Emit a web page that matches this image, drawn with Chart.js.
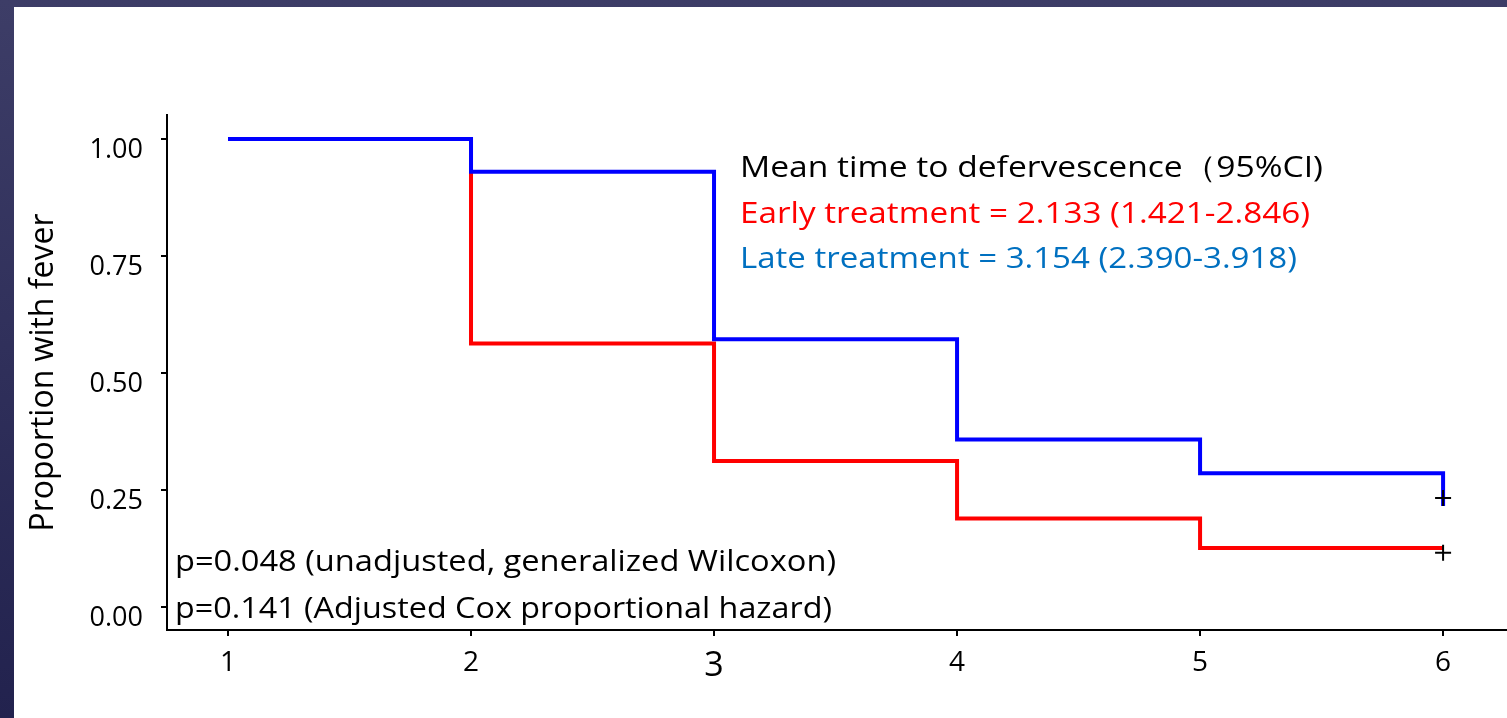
<!DOCTYPE html>
<html>
<head>
<meta charset="utf-8">
<script src="https://cdn.jsdelivr.net/npm/chart.js@4.4.1/dist/chart.umd.min.js"></script>
<style>
  html, body { margin: 0; padding: 0; }
  body {
    width: 1507px; height: 718px; overflow: hidden; position: relative;
    background: linear-gradient(#3d3d67, #22224e);
  }
  #wrap { position: absolute; left: 14px; top: 7px; width: 1493px; height: 711px; background: #fff; }
</style>
</head>
<body>
<div id="wrap"><canvas id="km"></canvas></div>
<script>
// Kaplan-Meier style curves
const days = [1, 2, 3, 4, 5, 6];
const lateTreatment = [1, 0.930, 0.572, 0.358, 0.286, 0.216];
const earlyTreatment = [1, 0.563, 0.312, 0.189, 0.126, 0.126];
const censorDays = [6, 6];
const censorValues = [0.233, 0.116];
const yTicks = [0, 0.25, 0.5, 0.75, 1];

const meanLines = [
    'Mean time to defervescence（95%CI)',
    'Early treatment = 2.133 (1.421-2.846)',
    'Late treatment = 3.154 (2.390-3.918)'
];
const pValueLines = [
    'p=0.048 (unadjusted, generalized Wilcoxon)',
    'p=0.141 (Adjusted Cox proportional hazard)'
];

const FONT = '"Open Sans", Lato, sans-serif';
const toPoints = (xs, ys) => xs.map((x, i) => ({ x: x, y: ys[i] }));

// draws text squeezed/stretched to a given width
function fillFit(ctx, text, x, y, width) {
    const w = ctx.measureText(text).width;
    ctx.save();
    ctx.translate(x, y);
    ctx.scale(width / w, 1);
    ctx.fillText(text, 0, 0);
    ctx.restore();
}

// text blocks drawn over the plot
const statsText = {
    id: 'statsText',
    afterDatasetsDraw(chart) {
        const ctx = chart.ctx;
        ctx.save();
        ctx.textAlign = 'left';
        ctx.textBaseline = 'alphabetic';

        const meanColors = ['#000000', '#ff0000', '#0070c0'];
        const meanWidths = [583, 570, 557];
        ctx.font = '30px ' + FONT;
        meanLines.forEach((line, i) => {
            ctx.fillStyle = meanColors[i];
            fillFit(ctx, line, 726, 170 + i * 45.5, meanWidths[i]);
        });

        const pWidths = [661, 657];
        ctx.font = '29px ' + FONT;
        ctx.fillStyle = '#000';
        pValueLines.forEach((line, i) => {
            fillFit(ctx, line, 161, 564 + i * 47, pWidths[i]);
        });
        ctx.restore();
    }
};

new Chart(document.getElementById('km'), {
    type: 'scatter',
    data: {
        datasets: [
            {
                label: 'Late treatment',
                data: toPoints(days, lateTreatment),
                showLine: true,
                stepped: 'before',
                borderColor: '#0000ff',
                borderWidth: 4,
                borderJoinStyle: 'miter',
                pointRadius: 0,
                order: 1
            },
            {
                label: 'Early treatment',
                data: toPoints(days, earlyTreatment),
                showLine: true,
                stepped: 'before',
                borderColor: '#ff0000',
                borderWidth: 4,
                borderJoinStyle: 'miter',
                pointRadius: 0,
                order: 2
            },
            {
                label: 'Censored',
                data: toPoints(censorDays, censorValues),
                showLine: false,
                pointStyle: 'cross',
                pointRadius: 8,
                pointBorderWidth: 2,
                pointBorderColor: '#000',
                borderColor: '#000',
                order: 0
            }
        ]
    },
    options: {
        responsive: true,
        maintainAspectRatio: false,
        animation: false,
        layout: { autoPadding: false, padding: { top: 108, right: 0, left: 0, bottom: 0 } },
        plugins: {
            legend: { display: false },
            tooltip: { enabled: false }
        },
        scales: {
            x: {
                type: 'linear',
                min: 0.749,
                max: 6.263,
                afterBuildTicks: (scale) => { scale.ticks = days.map(v => ({ value: v })); },
                afterFit: (scale) => {
                    scale.height = 88;
                    scale.paddingLeft = 0;
                    scale.paddingRight = 0;
                },
                grid: { drawOnChartArea: false, tickLength: 6, color: '#000', lineWidth: 2 },
                border: { color: '#000', width: 2 },
                ticks: {
                    color: '#000',
                    padding: 10,
                    font: (c) => ({ family: FONT, size: (c.tick && c.tick.value === 3) ? 34 : 28 })
                }
            },
            y: {
                type: 'linear',
                min: -0.049,
                max: 1.0513,
                afterBuildTicks: (scale) => { scale.ticks = yTicks.map(v => ({ value: v })); },
                afterFit: (scale) => { scale.width = 153; },
                grid: { drawOnChartArea: false, tickLength: 6, color: '#000', lineWidth: 2 },
                border: { color: '#000', width: 2 },
                ticks: {
                    color: '#000',
                    padding: 18,
                    labelOffset: 11,
                    font: { family: FONT, size: 27 },
                    callback: (v) => v.toFixed(2)
                },
                title: {
                    display: true,
                    text: 'Proportion with fever',
                    color: '#000',
                    font: { family: FONT, size: 32 },
                    padding: { top: 11, bottom: 0 }
                }
            }
        }
    },
    plugins: [statsText]
});
</script>
</body>
</html>
